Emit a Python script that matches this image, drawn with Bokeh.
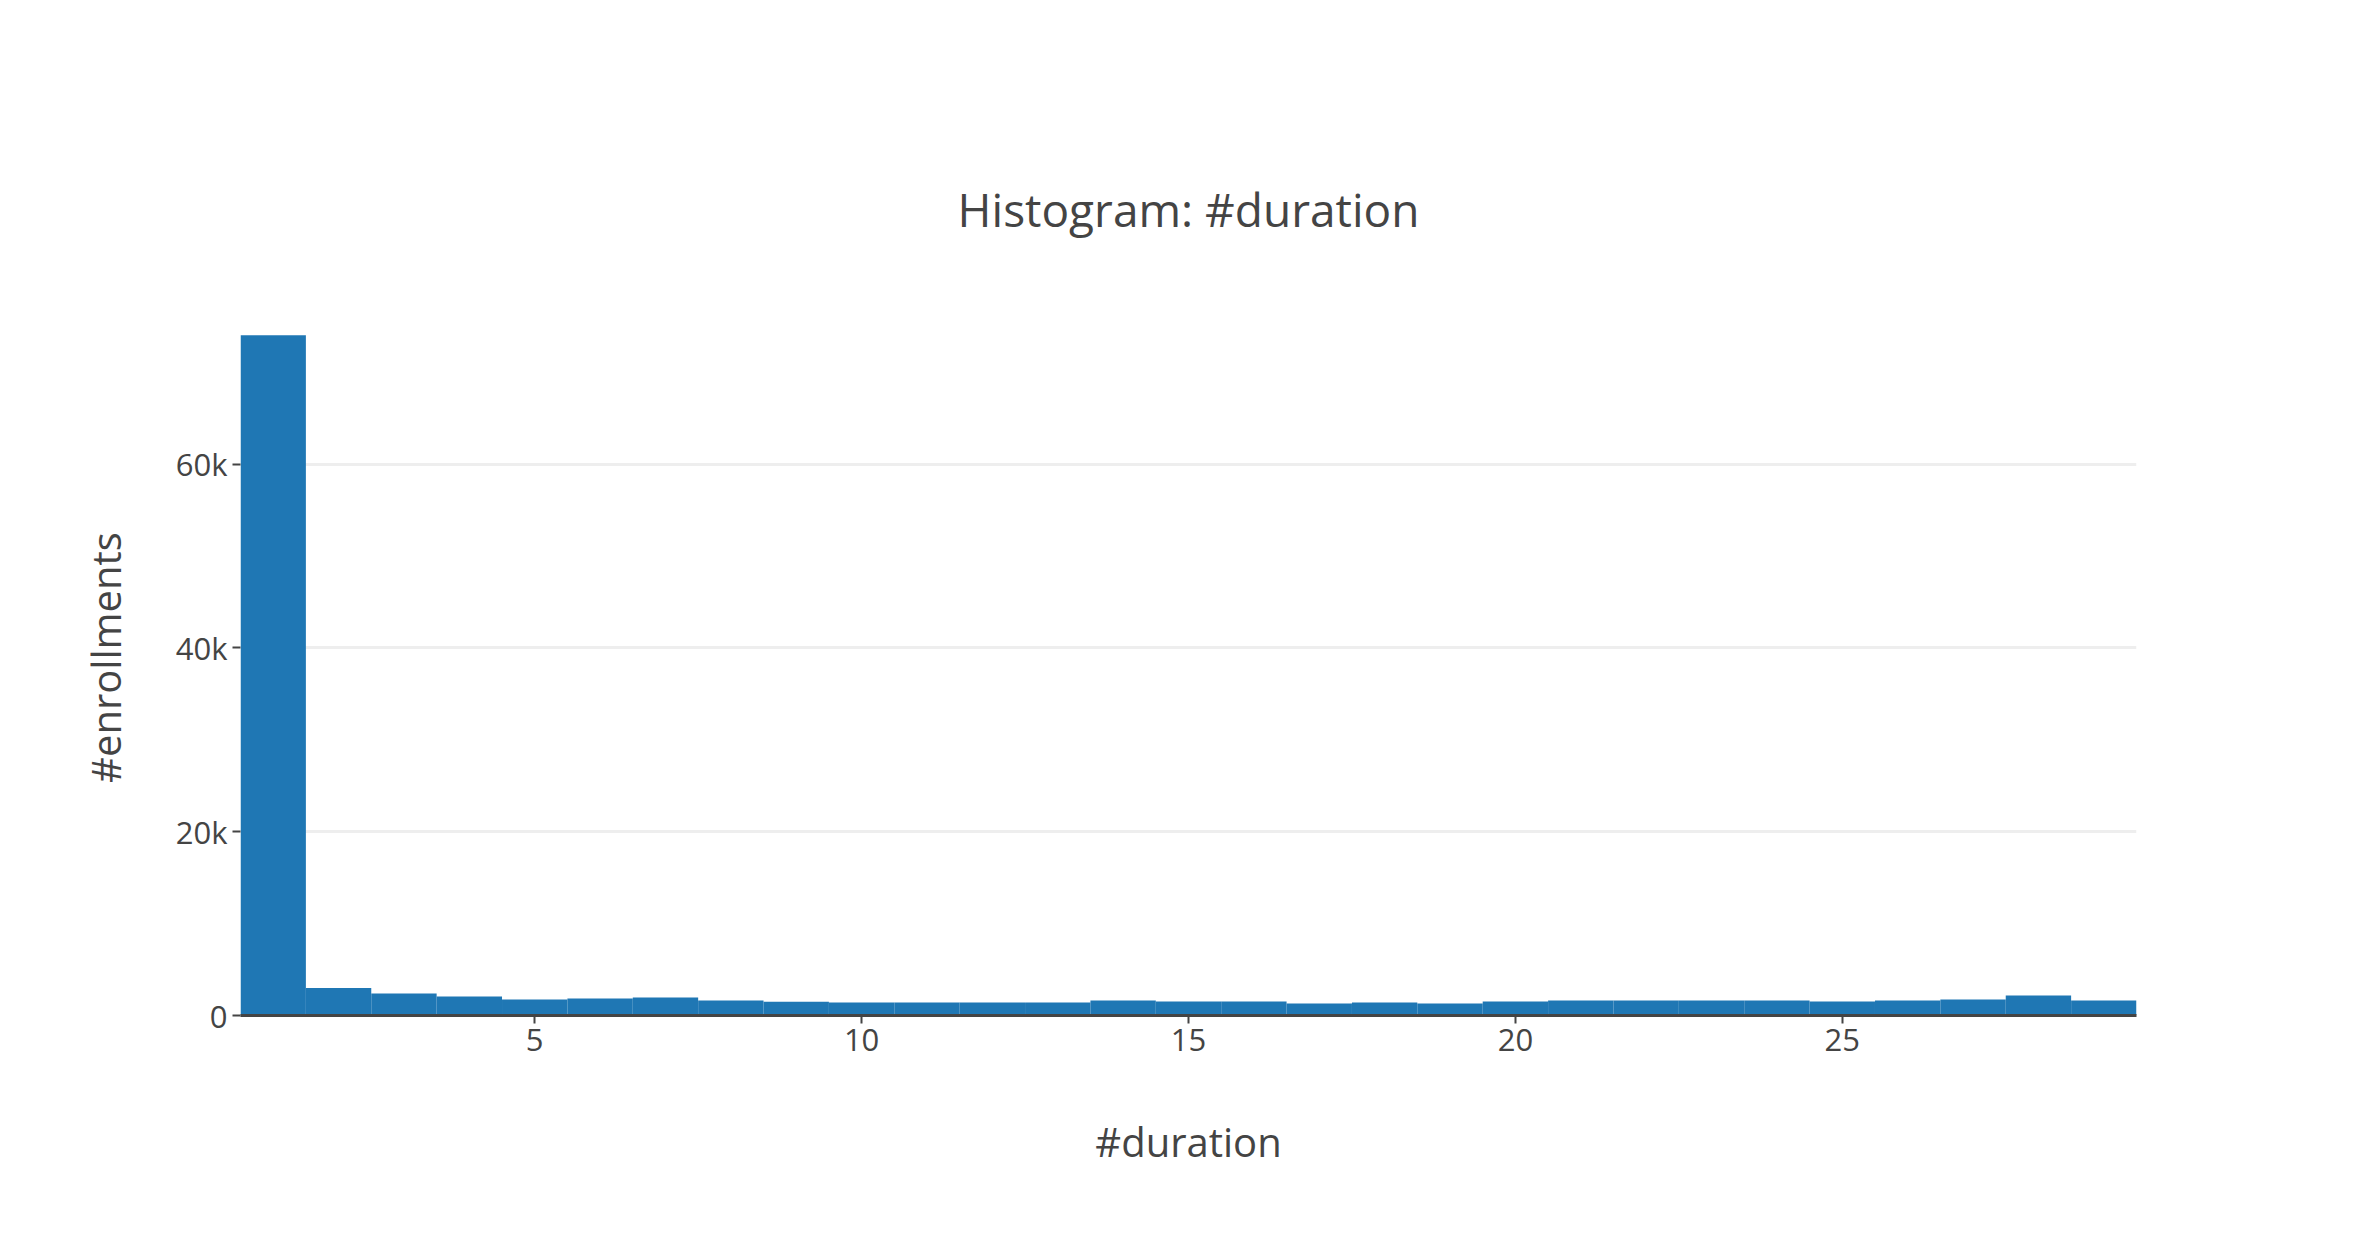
from bokeh.plotting import figure
from bokeh.models import Range1d, FixedTicker
from bokeh.embed import file_html
from bokeh.resources import INLINE

durations = list(range(1, 30))
counts = [74000, 3000, 2400, 2070, 1740, 1850, 1960, 1630, 1490, 1410,
          1410, 1410, 1410, 1630, 1520, 1520, 1300, 1410, 1300, 1520,
          1630, 1630, 1630, 1630, 1520, 1630, 1740, 2170, 1630]
x_ticks = [5, 10, 15, 20, 25]
y_ticks = [0, 20000, 40000, 60000]
y_labels = {0: "0", 20000: "20k", 40000: "40k", 60000: "60k"}

FONT = "Open Sans"
GREY = "#444444"

p = figure(width=2360, height=1238, output_backend="svg", toolbar_location=None,
           x_range=Range1d(0.5, 29.5), y_range=Range1d(0, 77900),
           min_border_left=240, min_border_right=224, min_border_top=299,
           min_border_bottom=223)
p.vbar(x=durations, top=counts, width=1.0, color="#1f77b4", line_color=None)

p.title.text = "Histogram: #duration"
p.title.align = "center"
p.title.text_font = FONT
p.title.text_font_style = "normal"
p.title.text_font_size = "46px"
p.title.text_color = GREY
p.title.standoff = 120

p.outline_line_color = None
p.xgrid.grid_line_color = None
p.ygrid.grid_line_color = "#eeeeee"
p.ygrid.grid_line_width = 3

p.xaxis.ticker = FixedTicker(ticks=x_ticks)
p.yaxis.ticker = FixedTicker(ticks=y_ticks)
p.yaxis.major_label_overrides = y_labels
for ax in (p.xaxis, p.yaxis):
    ax.major_label_text_font = FONT
    ax.major_label_text_font_size = "31px"
    ax.major_label_text_color = GREY
    ax.axis_label_text_font = FONT
    ax.axis_label_text_font_size = "40px"
    ax.axis_label_text_font_style = "normal"
    ax.axis_label_text_color = GREY
    ax.minor_tick_line_color = None
    ax.major_tick_line_color = GREY
    ax.major_tick_line_width = 2
    ax.major_tick_in = 0
    ax.major_tick_out = 8
p.xaxis.axis_label = "#duration"
p.yaxis.axis_label = "#enrollments"
p.xaxis.axis_line_color = GREY
p.xaxis.axis_line_width = 3
p.yaxis.axis_line_color = None
p.xaxis.axis_label_standoff = 60
p.yaxis.axis_label_standoff = 40

open("out.html", "w").write(file_html(p, INLINE))
